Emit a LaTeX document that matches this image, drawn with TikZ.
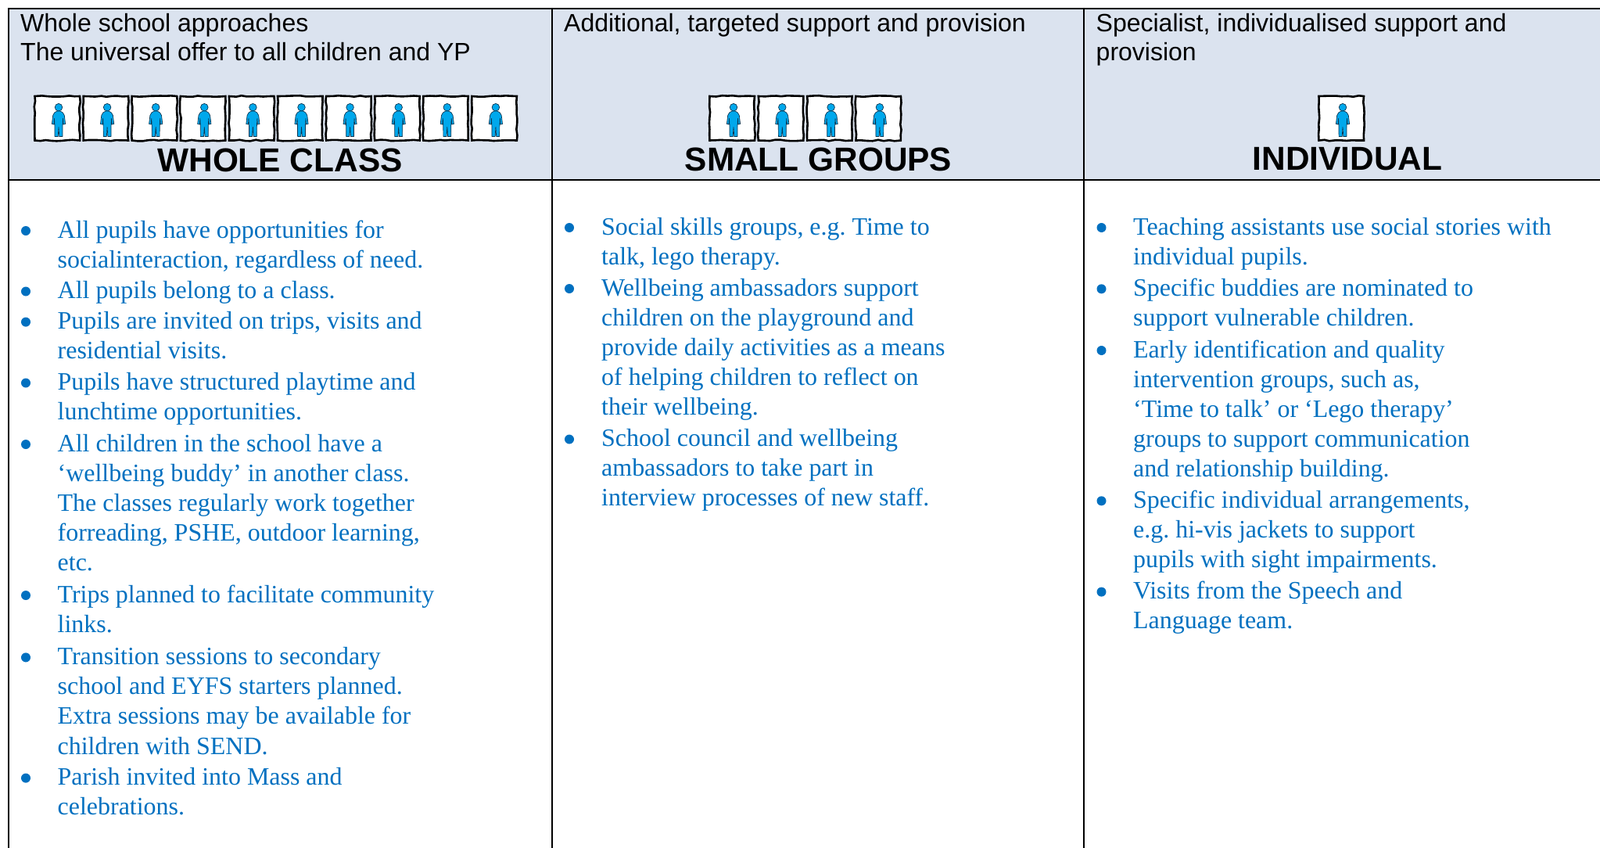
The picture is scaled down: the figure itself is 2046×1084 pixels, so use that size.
\documentclass[tikz,border=0pt]{standalone}
\usepackage{fontspec}
\setmainfont{Liberation Serif}
\newfontfamily\headfont{Liberation Sans}
\usetikzlibrary{decorations.pathmorphing}
\definecolor{headfill}{HTML}{DBE3EF}
\definecolor{bodyblue}{HTML}{0070C0}
\definecolor{pupilblue}{HTML}{00A8EC}
\definecolor{pupiledge}{HTML}{0B3550}
\newcommand{\stacklines}[1]{\begin{tabular}[t]{@{}l@{}}#1\end{tabular}}
\tikzset{
  x=1pt,y=-1pt,
  rule/.style={line width=2pt,draw=black},
  headtext/.style={anchor=base west,inner sep=0pt,font=\frenchspacing\headfont\fontsize{32}{37.2}\selectfont,text=black},
  bigtitle/.style={anchor=base,inner sep=0pt,font=\headfont\bfseries\fontsize{42.4}{50}\selectfont,text=black},
  bodytext/.style={anchor=base west,inner sep=0pt,font=\frenchspacing\fontsize{31.95}{38.2}\selectfont,text=bodyblue},
  dotmark/.style={circle,fill=bodyblue,inner sep=0pt,minimum size=12pt},
  pupilbox/.style={fill=white,draw=black,line width=2.6pt,decorate,decoration={random steps,segment length=7pt,amplitude=0.8pt}},
  pupilbody/.style={fill=pupilblue,draw=pupiledge,line width=0.7pt,line join=round},
  pupil/.pic={
    \path[pupilbox] (0.5,0.5) rectangle (58,57);
    \path[pupilbody] (31,14.7) circle (4.8);
    \path[pupilbody] (29,19.5) -- (33,19.5) -- (36.3,21.5) -- (38.3,25) -- (39.6,36) -- (37,36.5) -- (36.5,29)
      -- (36,38) -- (35.9,52) -- (31.8,52) -- (31,40) -- (30.2,52) -- (26.1,52) -- (26,38) -- (25.5,29)
      -- (25,36.5) -- (22.4,36) -- (23.7,25) -- (25.7,21.5) -- cycle;
  }
}
% name, bullet x, text x, baseline y, lines
\newcommand{\entry}[5]{%
  \node[dotmark] (#1d) at (#2,#4-9) {};
  \node[bodytext] (#1t) at (#3,#4) {\stacklines{#5}};
}
\begin{document}
\begin{tikzpicture}
\useasboundingbox (0,0) rectangle (2046,1084);
\fill[white] (0,0) rectangle (2046,1084);
% table
\fill[headfill] (10.5,11) rectangle (2046,230);
\draw[rule] (2046,11) -- (10.5,11) -- (10.5,1084);
\draw[rule] (10.5,230) -- (2046,230);
\draw[rule] (706,11) -- (706,1084);
\draw[rule] (1386,11) -- (1386,1084);
% header texts
\node[headtext] (h1) at (26,40.5) {\stacklines{Whole school approaches\\The universal offer to all children and YP}};
\node[headtext] (h2) at (721,40) {\stacklines{Additional, targeted support and provision}};
\node[headtext] (h3) at (1401.5,40.5) {\stacklines{Specialist, individualised support and\\provision}};
% pupils
\foreach \i in {0,...,9} \pic (wc\i) at ({44+62.1*\i},122.5) {pupil};
\foreach \i in {0,...,3} \pic (sg\i) at ({907+62.3*\i},122.5) {pupil};
\pic (ind) at (1686,122.5) {pupil};
% titles
\node[bigtitle] (t1) at (358,219) {WHOLE CLASS};
\node[bigtitle] (t2) at (1046.5,218) {SMALL GROUPS};
\node[bigtitle] (t3) at (1723,217) {INDIVIDUAL};
% column 1
\entry{a1}{33}{73.5}{304}{All pupils have opportunities for\\socialinteraction, regardless of need.}
\entry{a2}{33}{73.5}{381.5}{All pupils belong to a class.}
\entry{a3}{33}{73.5}{420.6}{Pupils are invited on trips, visits and\\residential visits.}
\entry{a4}{33}{73.5}{498.5}{Pupils have structured playtime and\\lunchtime opportunities.}
\entry{a5}{33}{73.5}{577}{All children in the school have a\\‘wellbeing buddy’ in another class.\\The classes regularly work together\\forreading, PSHE, outdoor learning,\\etc.}
\entry{a6}{33}{73.5}{770}{Trips planned to facilitate community\\links.}
\entry{a7}{33}{73.5}{849.4}{Transition sessions to secondary\\school and EYFS starters planned.\\Extra sessions may be available for\\children with SEND.}
\entry{a8}{33}{73.5}{1003.6}{Parish invited into Mass and\\celebrations.}
% column 2
\entry{b1}{728}{769}{300}{Social skills groups, e.g. Time to\\talk, lego therapy.}
\entry{b2}{728}{769}{378}{Wellbeing ambassadors support\\children on the playground and\\provide daily activities as a means\\of helping children to reflect on\\their wellbeing.}
\entry{b3}{728}{769}{570.5}{School council and wellbeing\\ambassadors to take part in\\interview processes of new staff.}
% column 3
\entry{c1}{1408.5}{1449}{300}{Teaching assistants use social stories with\\individual pupils.}
\entry{c2}{1408.5}{1449}{378.3}{Specific buddies are nominated to\\support vulnerable children.}
\entry{c3}{1408.5}{1449}{457}{Early identification and quality\\intervention groups, such as,\\‘Time to talk’ or ‘Lego therapy’\\groups to support communication\\and relationship building.}
\entry{c4}{1408.5}{1449}{649.3}{Specific individual arrangements,\\e.g. hi-vis jackets to support\\pupils with sight impairments.}
\entry{c5}{1408.5}{1449}{765.6}{Visits from the Speech and\\Language team.}
\end{tikzpicture}
\end{document}
